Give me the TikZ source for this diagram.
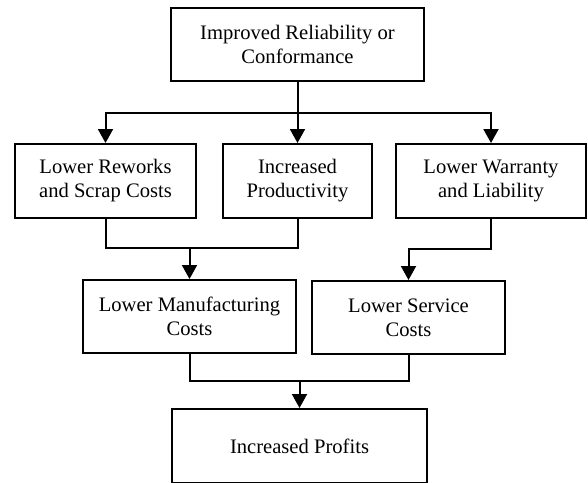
\documentclass[tikz,border=0pt]{standalone}
\usepackage{fontspec}
\setmainfont{Liberation Serif}
\usetikzlibrary{arrows.meta}
\begin{document}
\begin{tikzpicture}[x=1pt,y=-1pt,
  box/.style={draw, line width=2pt, align=center, inner sep=0pt,
    font=\fontsize{20.6}{24}\selectfont},
  link/.style={line width=2pt},
  arrowlink/.style={link, -{Triangle[length=14pt,width=15pt]}}]
\useasboundingbox (0,0) rectangle (588,482);
% cause and effect boxes
\node[box, minimum width=253pt, minimum height=73pt] (top) at (297.5,44.5)
  {Improved Reliability or\\Conformance};
\node[box, minimum width=181pt, minimum height=74pt] (rework) at (105.5,181)
  {Lower Reworks\\and Scrap Costs};
\node[box, minimum width=149pt, minimum height=74pt] (prod) at (297.5,181)
  {Increased\\Productivity};
\node[box, minimum width=190pt, minimum height=74pt] (warranty) at (491,181)
  {Lower Warranty\\and Liability};
\node[box, minimum width=213pt, minimum height=73pt] (manuf) at (189.5,316.5)
  {Lower Manufacturing\\Costs};
\node[box, minimum width=193pt, minimum height=73pt] (service) at (408.5,317.5)
  {Lower Service\\Costs};
\node[box, minimum width=255pt, minimum height=74pt] (profit) at (299.5,446)
  {Increased Profits};
% junction points
\coordinate (split) at (297.5,113);
\coordinate (mjoin) at (189.5,248);
\coordinate (sbend) at (491,249);
\coordinate (pjoin) at (299.5,381);
% connectors
\draw[arrowlink] (top.south) -- (prod.north);
\draw[arrowlink] (split) -| (rework.north);
\draw[arrowlink] (split) -| (warranty.north);
\draw[link] (rework.south) |- (mjoin);
\draw[link] (prod.south) |- (mjoin);
\draw[arrowlink] (mjoin) -- (manuf.north);
\draw[arrowlink] (warranty.south) -- (sbend) -| (service.north);
\draw[link] (manuf.south) |- (pjoin);
\draw[link] (service.south) |- (pjoin);
\draw[arrowlink] (pjoin) -- (profit.north);
\end{tikzpicture}
\end{document}
